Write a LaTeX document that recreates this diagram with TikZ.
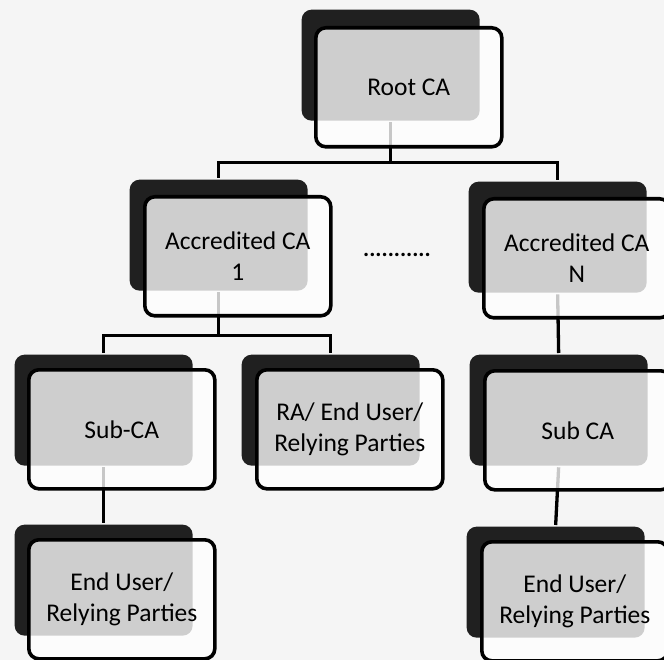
\documentclass[tikz,border=0pt]{standalone}
\usepackage{fontspec}
\setmainfont{Carlito}
\usetikzlibrary{positioning}
\definecolor{backdark}{RGB}{32,32,32}
\definecolor{paper}{RGB}{245,245,245}

\begin{document}
\begin{tikzpicture}[x=1pt, y=1pt, line width=3.3pt,
        backbox/.style={rectangle, rounded corners=10pt, fill=backdark, inner sep=0pt, anchor=north west, minimum width=178pt, minimum height=111pt},
        frontbox/.style={rectangle, rounded corners=10pt, draw=black, line width=3.6pt, fill=white, fill opacity=0.78, text opacity=1, inner sep=0pt, align=center, minimum width=186pt, minimum height=119pt, font=\fontsize{25.5}{31}\selectfont}]
    \fill[paper] (0,0) rectangle (664,-660);
    \useasboundingbox (0,0) rectangle (664,-660);
    % dark back cards
    \node[backbox] (rootB) at (300,-8) {};
    \node[backbox] (acc1B) at (128,-178) {};
    \node[backbox] (accNB) at (467,-180) {};
    \node[backbox] (sub1B) at (13,-353) {};
    \node[backbox] (raB) at (240,-353) {};
    \node[backbox] (subNB) at (468,-353) {};
    \node[backbox] (end1B) at (13,-523) {};
    \node[backbox] (endNB) at (465,-525) {};
    % connectors, behind the front cards
    \coordinate (rootJ) at ([yshift=-40pt]rootB.south);
    \coordinate (acc1J) at ([yshift=-43pt]acc1B.south);
    \draw (rootB.south) -- (rootJ);
    \draw (acc1B.north) |- (rootJ) -| (accNB.north);
    \draw (acc1B.south) -- (acc1J);
    \draw (sub1B.north) |- (acc1J) -| (raB.north);
    \draw (accNB.south) -- (subNB.north);
    \draw (sub1B.south) -- (end1B.north);
    \draw (subNB.south) -- (endNB.north);
    % front cards
    \node[frontbox, below right=18pt and 14pt of rootB.north west] (root) {Root CA};
    \node[frontbox, below right=17pt and 15pt of acc1B.north west] (acc1) {Accredited CA\\1};
    \node[frontbox, below right=17pt and 15pt of accNB.north west] (accN) {Accredited CA\\N};
    \node[frontbox, below right=15pt and 14pt of sub1B.north west] (sub1) {Sub-CA};
    \node[frontbox, below right=15pt and 15pt of raB.north west] (ra) {RA/ End User/\\Relying Parties};
    \node[frontbox, below right=16pt and 15pt of subNB.north west] (subN) {Sub CA};
    \node[frontbox, below right=15pt and 14pt of end1B.north west] (end1) {End User/\\Relying Parties};
    \node[frontbox, below right=15pt and 15pt of endNB.north west] (endN) {End User/\\Relying Parties};
    \node[font=\fontsize{23}{29}\selectfont\bfseries] (dots) at (397,-255) {...........};
\end{tikzpicture}
\end{document}
